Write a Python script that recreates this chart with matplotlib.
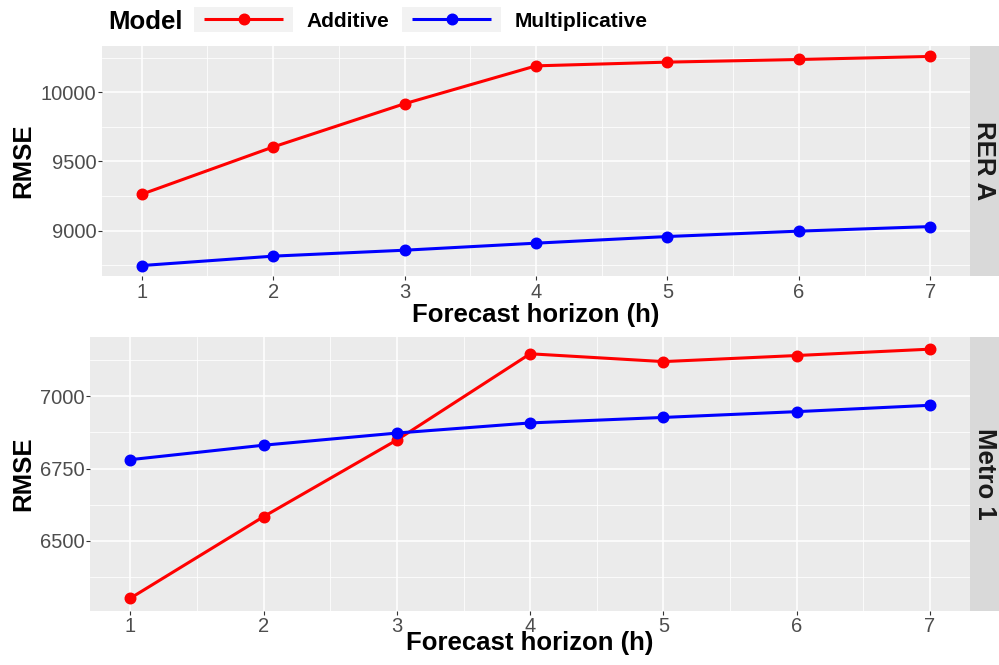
import matplotlib
matplotlib.use("Agg")
import matplotlib.pyplot as plt
import matplotlib.transforms as mtransforms
from matplotlib.lines import Line2D
from matplotlib.patches import Rectangle
from matplotlib.ticker import MultipleLocator

plt.rcParams['font.family'] = ['Liberation Sans', 'DejaVu Sans']

# ---------------- data ----------------
horizons = [1, 2, 3, 4, 5, 6, 7]
models = ["Additive", "Multiplicative"]
model_colors = ["#FF0000", "#0000FF"]
panels = ["RER A", "Metro 1"]

rera_additive = [9263, 9605, 9918, 10192, 10219, 10238, 10260]
rera_multiplicative = [8747, 8815, 8858, 8909, 8957, 8996, 9029]
metro1_additive = [6302, 6584, 6849, 7147, 7120, 7141, 7163]
metro1_multiplicative = [6781, 6831, 6873, 6908, 6927, 6947, 6969]

panel_series = [
    [rera_additive, rera_multiplicative],
    [metro1_additive, metro1_multiplicative],
]
y_major_steps = [500, 250]

x_label = "Forecast horizon (h)"
y_label = "RMSE"
legend_title = "Model"

# ---------------- layout ----------------
W, H = 999, 665
fig = plt.figure(figsize=(W / 100, H / 100), dpi=100)
fig.patch.set_facecolor("white")


def fx(px):
    return px / W


def fy(py):
    return 1 - py / H


# (left, top, right, bottom) in pixels
panel_boxes = [(102.3, 46.0, 969.7, 276.0), (90.3, 336.7, 970.0, 610.7)]
xlabel_baselines = [321.7, 650.0]
strip_right = 999.0

for i, name in enumerate(panels):
    l, t, r, b = panel_boxes[i]
    ax = fig.add_axes([fx(l), fy(b), (r - l) / W, (b - t) / H])
    ax.set_facecolor("#EBEBEB")
    for s in ax.spines.values():
        s.set_visible(False)
    ax.set_axisbelow(True)
    ax.xaxis.set_major_locator(MultipleLocator(1))
    ax.xaxis.set_minor_locator(MultipleLocator(0.5))
    step = y_major_steps[i]
    ax.yaxis.set_major_locator(MultipleLocator(step))
    ax.yaxis.set_minor_locator(MultipleLocator(step / 2))
    ax.grid(which="major", color="white", linewidth=1.1)
    ax.grid(which="minor", color="white", linewidth=0.55)
    ax.tick_params(which="major", length=2.75, width=0.8, color="#333333",
                   labelcolor="#4D4D4D", labelsize=14.5)
    ax.tick_params(axis="y", which="major", pad=1.5)
    ax.tick_params(axis="x", which="major", pad=2.0)
    ax.tick_params(which="minor", length=0)

    series = panel_series[i]
    # lines first, then points (ggplot layer order)
    for vals, col in zip(series, model_colors):
        ax.plot(horizons, vals, color=col, linewidth=2.2, zorder=3,
                solid_capstyle="butt")
    for vals, col in zip(series, model_colors):
        ax.plot(horizons, vals, linestyle="none", marker="o", markersize=7.6,
                color=col, zorder=4)
    ax.margins(x=0.05, y=0.05)

    ax.set_xlabel(x_label, fontsize=18.5, fontweight="bold", color="black")
    ax.xaxis.set_label_coords(
        0.5, fy(xlabel_baselines[i]),
        transform=mtransforms.blended_transform_factory(ax.transAxes, fig.transFigure))
    ax.xaxis.label.set_va("baseline")

    ax.set_ylabel(y_label, fontsize=18.5, fontweight="bold", color="black")
    ax.yaxis.set_label_coords(
        fx(30.0), 0.5,
        transform=mtransforms.blended_transform_factory(fig.transFigure, ax.transAxes))
    ax.yaxis.label.set_va("baseline")

    # facet strip on the right
    sax = fig.add_axes([fx(r), fy(b), (strip_right - r) / W, (b - t) / H])
    sax.set_facecolor("#D9D9D9")
    sax.set_xticks([])
    sax.set_yticks([])
    for s in sax.spines.values():
        s.set_visible(False)
    sax.text(0.5, 0.5, name, rotation=-90, ha="center", va="center",
             fontsize=18.5, fontweight="bold", color="#1A1A1A",
             transform=sax.transAxes)

# ---------------- legend (top) ----------------
fig.text(fx(108.3), fy(29.3), legend_title, fontsize=18.5, fontweight="bold",
         ha="left", va="baseline", color="black")
key_lefts = [194.3, 402.3]
label_lefts = [306.0, 515.0]
key_w, key_top, key_bot, key_mid = 98.4, 6.7, 32.0, 19.3
for m, col, kl, ll in zip(models, model_colors, key_lefts, label_lefts):
    fig.add_artist(Rectangle((fx(kl), fy(key_bot)), key_w / W, (key_bot - key_top) / H,
                             transform=fig.transFigure, facecolor="#F2F2F2",
                             edgecolor="none"))
    fig.add_artist(Line2D([fx(kl + 10), fx(kl + key_w - 10)], [fy(key_mid)] * 2,
                          transform=fig.transFigure, color=col, linewidth=2.2,
                          solid_capstyle="butt"))
    fig.add_artist(Line2D([fx(kl + key_w / 2)], [fy(key_mid)],
                          transform=fig.transFigure, color=col, marker="o",
                          markersize=7.6, linestyle="none"))
    fig.text(fx(ll), fy(27.3), m, fontsize=15, fontweight="bold",
             ha="left", va="baseline", color="black")

fig.savefig("out.png", dpi=100, facecolor="white")
